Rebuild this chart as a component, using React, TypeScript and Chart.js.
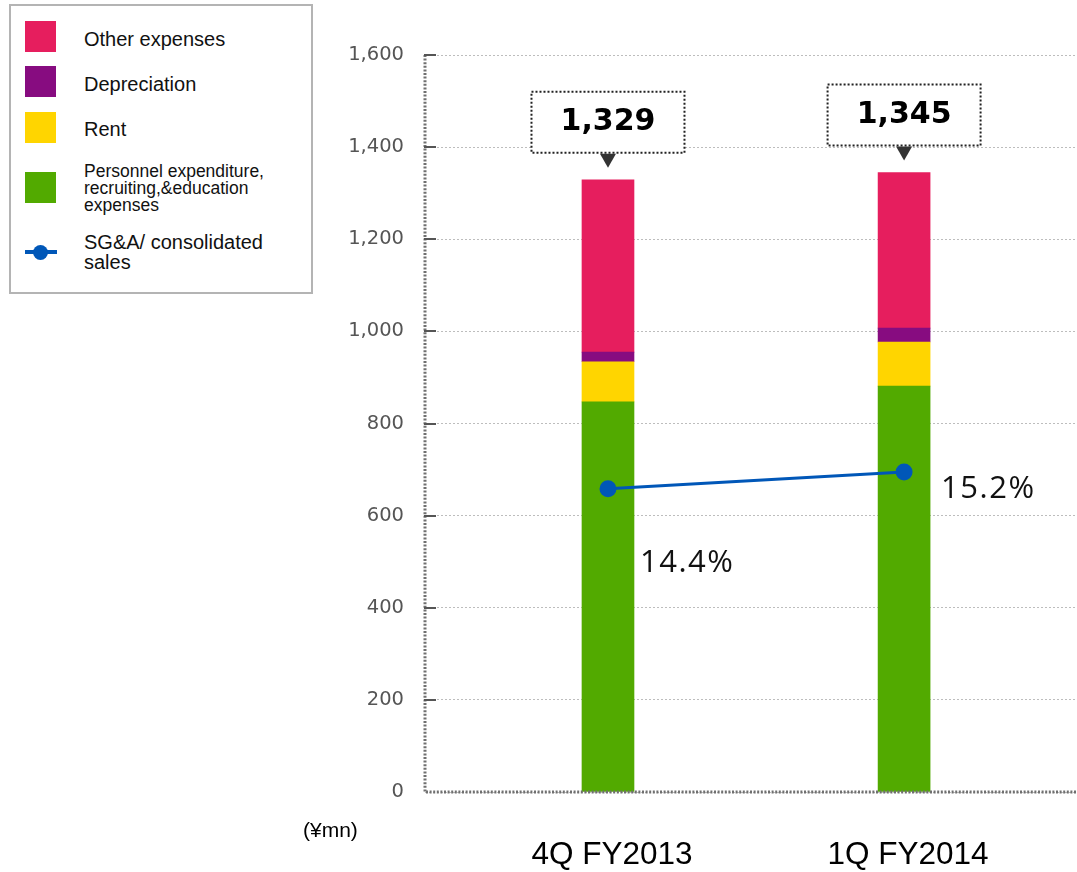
import React, { useEffect, useRef } from "react";
import { Chart, registerables } from "chart.js";

Chart.register(...registerables);

// Quarterly SG&A breakdown (¥mn)
const categories = ["4Q FY2013", "1Q FY2014"];
const personnel = [847, 881];
const rent = [87, 96];
const depreciation = [21, 30];
const otherExpenses = [374, 338];
const totals = [1329, 1345];
// SG&A as % of consolidated sales
const sgaRatio = [14.4, 15.2];

const COLORS = {
  other: "#E61E5E",
  depreciation: "#870C80",
  rent: "#FFD500",
  personnel: "#52AA00",
  ratio: "#0057B8",
};

const SANS = "'Liberation Sans', Arial, sans-serif";
const VERDANA = "'DejaVu Sans', Verdana, sans-serif";

// Offsets of the ratio labels from their points
const ratioLabelOffset = [
  { dx: 32, dy: 74 },
  { dx: 37, dy: 17 },
];

const overlay = {
  id: "overlay",
  afterDatasetsDraw(chart: any) {
    const { ctx, chartArea: a, scales } = chart;
    const xs = scales.x;
    const ys = scales.y;
    ctx.save();

    // dotted axis lines
    ctx.strokeStyle = "#707070";
    ctx.lineWidth = 3;
    ctx.setLineDash([2, 1.6]);
    ctx.beginPath();
    ctx.moveTo(a.left, a.top);
    ctx.lineTo(a.left, a.bottom);
    ctx.lineTo(a.right, a.bottom);
    ctx.stroke();

    // short inward tick marks
    ctx.setLineDash([]);
    ctx.strokeStyle = "#555";
    ctx.lineWidth = 2;
    ys.ticks.forEach((t: any) => {
      if (t.value === 0) return;
      const py = Math.round(ys.getPixelForValue(t.value));
      ctx.beginPath();
      ctx.moveTo(a.left - 1, py);
      ctx.lineTo(a.left + 11, py);
      ctx.stroke();
    });

    // total callouts
    totals.forEach((total, i) => {
      const cx = xs.getPixelForValue(i);
      const top = ys.getPixelForValue(total);
      const boxW = 153;
      const boxH = 61;
      const boxBottom = top - 27;
      const bx = cx - boxW / 2;
      const by = boxBottom - boxH;
      ctx.fillStyle = "#fff";
      ctx.fillRect(bx, by, boxW, boxH);
      ctx.setLineDash([2, 2]);
      ctx.lineWidth = 2;
      ctx.strokeStyle = "#222";
      ctx.strokeRect(bx, by, boxW, boxH);
      ctx.setLineDash([]);
      ctx.fillStyle = "#333";
      ctx.beginPath();
      ctx.moveTo(cx - 8, boxBottom + 1);
      ctx.lineTo(cx + 8, boxBottom + 1);
      ctx.lineTo(cx, boxBottom + 15);
      ctx.closePath();
      ctx.fill();
      ctx.fillStyle = "#000";
      ctx.font = `bold 30px ${VERDANA}`;
      ctx.textAlign = "center";
      ctx.textBaseline = "middle";
      ctx.fillText(total.toLocaleString("en-US"), cx, by + boxH / 2);
    });

    // ratio labels
    const lineMeta = chart.getDatasetMeta(4);
    lineMeta.data.forEach((pt: any, i: number) => {
      const off = ratioLabelOffset[i];
      ctx.fillStyle = "#111";
      ctx.font = `31px 'Open Sans', sans-serif`;
      (ctx as any).letterSpacing = "1.5px";
      ctx.textAlign = "left";
      ctx.textBaseline = "middle";
      ctx.fillText(`${sgaRatio[i].toFixed(1)}%`, pt.x + off.dx, pt.y + off.dy);
      (ctx as any).letterSpacing = "0px";
    });

    // unit note
    ctx.fillStyle = "#000";
    ctx.font = `21px ${SANS}`;
    ctx.textAlign = "left";
    ctx.textBaseline = "middle";
    ctx.fillText("(¥mn)", a.left - 122, a.bottom + 39);

    ctx.restore();
  },
};

type LegendItem = { label: string; color: string; kind: "box" | "line"; small?: boolean };

const legendItems: LegendItem[] = [
  { label: "Other expenses", color: COLORS.other, kind: "box" },
  { label: "Depreciation", color: COLORS.depreciation, kind: "box" },
  { label: "Rent", color: COLORS.rent, kind: "box" },
  {
    label: "Personnel expenditure,\nrecruiting,&education\nexpenses",
    color: COLORS.personnel,
    kind: "box",
    small: true,
  },
  { label: "SG&A/ consolidated\nsales", color: COLORS.ratio, kind: "line" },
];
const legendSwatchCenters = [36, 81, 127, 187, 252];
const legendTextCenters = [39, 84, 129, 188, 252];

function Legend() {
  return (
    <div
      style={{
        position: "absolute",
        left: 9,
        top: 4,
        width: 300,
        height: 286,
        border: "2px solid #b4b4b4",
        background: "#fff",
        boxSizing: "content-box",
      }}
    >
      {legendItems.map((it, i) => {
        const cy = legendSwatchCenters[i] - 6;
        const ty = legendTextCenters[i] - 6;
        return (
          <React.Fragment key={it.label}>
            {it.kind === "box" ? (
              <div
                style={{
                  position: "absolute",
                  left: 14,
                  top: cy - 15.5,
                  width: 31,
                  height: 31,
                  background: it.color,
                }}
              />
            ) : (
              <div style={{ position: "absolute", left: 14, top: cy - 15, width: 32, height: 30 }}>
                <div
                  style={{
                    position: "absolute",
                    left: 0,
                    top: 13,
                    width: 32,
                    height: 4,
                    background: it.color,
                  }}
                />
                <div
                  style={{
                    position: "absolute",
                    left: 8,
                    top: 8,
                    width: 15,
                    height: 15,
                    borderRadius: "50%",
                    background: it.color,
                  }}
                />
              </div>
            )}
            <div
              style={{
                position: "absolute",
                left: 73,
                top: ty,
                transform: "translateY(-50%)",
                fontFamily: SANS,
                fontSize: it.small ? 17.5 : 20,
                lineHeight: it.small ? "17px" : "20px",
                color: "#111",
                whiteSpace: "pre",
              }}
            >
              {it.label}
            </div>
          </React.Fragment>
        );
      })}
    </div>
  );
}

export default function App() {
  const canvasRef = useRef<HTMLCanvasElement | null>(null);

  useEffect(() => {
    const canvas = canvasRef.current;
    if (!canvas) return;
    const toXY = (vals: number[]) => vals.map((v, i) => ({ x: i, y: v }));
    const barBase = { type: "bar" as const, barThickness: 52, borderWidth: 0, order: 1, yAxisID: "y" };
    const chart = new Chart(canvas, {
      type: "bar",
      data: {
        datasets: [
          { ...barBase, label: "Personnel expenditure, recruiting,&education expenses", data: toXY(personnel), backgroundColor: COLORS.personnel },
          { ...barBase, label: "Rent", data: toXY(rent), backgroundColor: COLORS.rent },
          { ...barBase, label: "Depreciation", data: toXY(depreciation), backgroundColor: COLORS.depreciation },
          { ...barBase, label: "Other expenses", data: toXY(otherExpenses), backgroundColor: COLORS.other },
          {
            type: "line",
            label: "SG&A/ consolidated sales",
            data: toXY(sgaRatio),
            yAxisID: "y2",
            order: 0,
            borderColor: COLORS.ratio,
            backgroundColor: COLORS.ratio,
            borderWidth: 3,
            pointRadius: 8.5,
            pointHoverRadius: 8.5,
            pointBorderWidth: 0,
            stack: "ratio",
          } as any,
        ],
      },
      options: {
        responsive: false,
        animation: false,
        devicePixelRatio: 1,
        layout: { autoPadding: false, padding: { top: 55, right: 0, left: 0, bottom: 0 } },
        plugins: { legend: { display: false }, tooltip: { enabled: false } },
        scales: {
          x: {
            type: "linear",
            stacked: true,
            offset: false,
            bounds: "data",
            grace: 0,
            min: -0.618,
            max: 1.584,
            grid: { display: false, drawTicks: false, offset: false },
            border: { display: false },
            afterBuildTicks: (scale: any) => {
              scale.ticks = categories.map((_, i) => ({ value: i }));
            },
            afterFit: (scale: any) => {
              scale.height = 80;
            },
            ticks: {
              callback: (v: any) => categories[v as number] ?? "",
              color: "#000",
              font: { family: SANS, size: 31.5 },
              padding: 44,
              labelOffset: 4,
              maxRotation: 0,
              autoSkip: false,
            },
          },
          y: {
            stacked: true,
            min: 0,
            max: 1600,
            grid: { color: "#bdbdbd", lineWidth: 1, drawTicks: false },
            border: { display: false, dash: [2, 2] },
            afterFit: (scale: any) => {
              scale.width = 425;
            },
            ticks: {
              stepSize: 200,
              padding: 21,
              color: "#555",
              font: { family: VERDANA, size: 19.5 },
              callback: (v: any) => Number(v).toLocaleString("en-US"),
            },
          },
          y2: {
            display: false,
            min: 0,
            max: 35,
          },
        },
      } as any,
      plugins: [overlay],
    });
    return () => chart.destroy();
  }, []);

  return (
    <div style={{ position: "absolute", left: 0, top: 0, width: 1077, height: 872, background: "#fff" }}>
      <canvas ref={canvasRef} width={1077} height={872} style={{ position: "absolute", left: 0, top: 0 }} />
      <Legend />
    </div>
  );
}
